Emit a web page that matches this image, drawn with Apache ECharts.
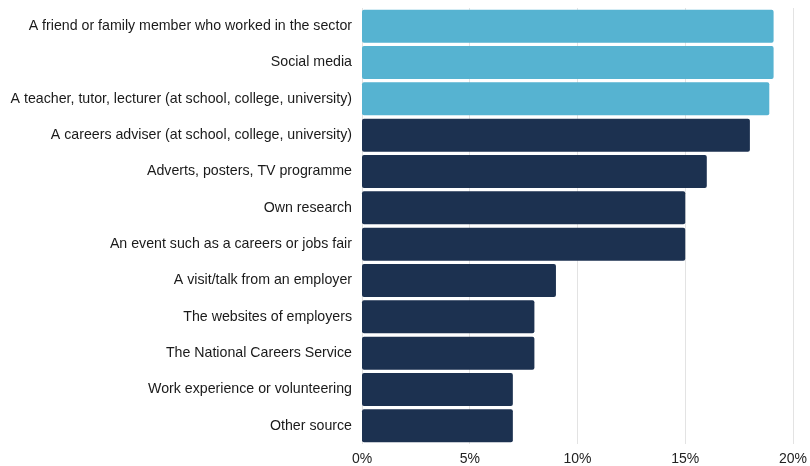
<!DOCTYPE html>
<html>
<head>
<meta charset="utf-8">
<script src="https://cdn.jsdelivr.net/npm/echarts@6/dist/echarts.min.js"></script>
<style>html,body{margin:0;padding:0;background:#fff}#c{width:810px;height:466px}</style>
</head>
<body>
<div id="c"></div>
<script>
const categories = [
  "A friend or family member who worked in the sector",
  "Social media",
  "A teacher, tutor, lecturer (at school, college, university)",
  "A careers adviser (at school, college, university)",
  "Adverts, posters, TV programme",
  "Own research",
  "An event such as a careers or jobs fair",
  "A visit/talk from an employer",
  "The websites of employers",
  "The National Careers Service",
  "Work experience or volunteering",
  "Other source"
];
const values = [19.1, 19.1, 18.9, 18.0, 16.0, 15.0, 15.0, 9.0, 8.0, 8.0, 7.0, 7.0];
const highlighted = [true, true, true, false, false, false, false, false, false, false, false, false];
const xTicks = [0, 5, 10, 15, 20];

const chart = echarts.init(document.getElementById('c'), null, {renderer: 'canvas'});
chart.setOption({
  animation: false,
  grid: {left: 362, right: 11, top: 8, bottom: 20, containLabel: false},
  xAxis: {
    type: 'value', min: xTicks[0], max: xTicks[xTicks.length - 1], interval: 5,
    axisLine: {show: false}, axisTick: {show: false},
    splitLine: {show: true, lineStyle: {color: '#e3e3e3', width: 1}},
    axisLabel: {formatter: v => v + '%', color: '#222', fontSize: 14, fontFamily: 'Liberation Sans, Arial, sans-serif', margin: 8}
  },
  yAxis: {
    type: 'category', inverse: true, data: categories,
    axisLine: {show: false}, axisTick: {show: false},
    axisLabel: {color: '#1a1a1a', fontSize: 14.2, fontFamily: 'Liberation Sans, Arial, sans-serif', margin: 10}
  },
  series: [{
    type: 'bar',
    barCategoryGap: '9%',
    data: values.map((v, i) => ({
      value: v,
      itemStyle: {color: highlighted[i] ? '#56b3d1' : '#1c3150', borderRadius: 2}
    }))
  }]
});
</script>
</body>
</html>
